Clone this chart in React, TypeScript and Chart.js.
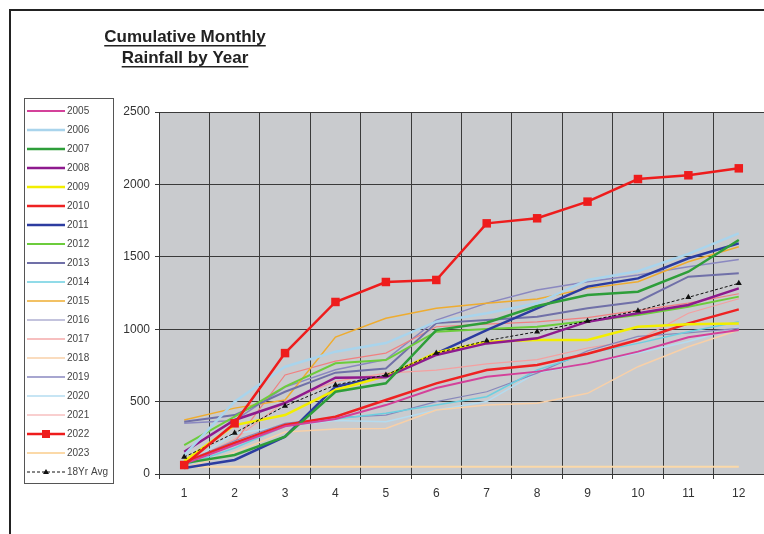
import React, { useEffect, useRef } from 'react';
import { Chart, registerables } from 'chart.js';

Chart.register(...registerables);

const months = ['1', '2', '3', '4', '5', '6', '7', '8', '9', '10', '11', '12'];
const yTicks = [0, 500, 1000, 1500, 2000, 2500];

const s2005 = [70, 200, 330, 380, 476, 594, 672, 707, 764, 845, 945, 995];
const s2006 = [130, 500, 741, 845, 904, 1052, 1110, 1179, 1340, 1400, 1520, 1662];
const s2007 = [75, 131, 258, 568, 626, 994, 1045, 1160, 1236, 1259, 1397, 1616];
const s2008 = [154, 373, 490, 665, 668, 822, 902, 937, 1052, 1110, 1167, 1282];
const s2009 = [90, 338, 407, 580, 677, 838, 914, 925, 925, 1017, 1035, 1040];
const s2010 = [80, 214, 338, 395, 511, 626, 718, 753, 830, 925, 1040, 1137];
const s2011 = [41, 97, 258, 603, 677, 833, 994, 1144, 1294, 1351, 1490, 1593];
const s2012 = [200, 396, 603, 765, 787, 983, 1001, 1017, 1057, 1098, 1155, 1225];
const s2013 = [361, 407, 568, 700, 729, 1042, 1063, 1086, 1144, 1190, 1363, 1386];
const s2014 = [60, 180, 330, 380, 420, 476, 534, 718, 833, 902, 983, 1052];
const s2015 = [373, 455, 511, 946, 1075, 1144, 1179, 1209, 1282, 1328, 1466, 1570];
const s2016 = [80, 230, 350, 390, 407, 500, 568, 697, 850, 950, 975, 1006];
const s2017 = [90, 220, 684, 780, 835, 1017, 1035, 1050, 1080, 1130, 1180, 1245];
const s2018 = [40, 150, 290, 310, 315, 442, 476, 488, 557, 741, 879, 994];
const s2019 = [350, 370, 600, 720, 790, 1063, 1180, 1270, 1328, 1374, 1432, 1482];
const s2020 = [60, 280, 330, 370, 361, 442, 500, 700, 765, 835, 915, 1015];
const s2021 = [70, 240, 500, 640, 697, 718, 760, 790, 870, 925, 1110, 1210];
const s2022 = [62, 350, 835, 1188, 1326, 1340, 1731, 1766, 1881, 2037, 2063, 2111];
const s2023 = [50, 50, 50, 50, 50, 50, 50, 50, 50, 50, 50, 50];
const avg18 = [117, 283, 470, 615, 684, 835, 921, 983, 1057, 1128, 1220, 1317];

const seriesNames = ['2005', '2006', '2007', '2008', '2009', '2010', '2011', '2012', '2013', '2014', '2015', '2016', '2017', '2018', '2019', '2020', '2021', '2022', '2023', '18Yr Avg'];
const seriesData = [s2005, s2006, s2007, s2008, s2009, s2010, s2011, s2012, s2013, s2014, s2015, s2016, s2017, s2018, s2019, s2020, s2021, s2022, s2023, avg18];
const seriesColors = ['#d4419a', '#a9d4ec', '#2e9e3a', '#8e1a8e', '#f2ee00', '#ee2222', '#2c3ca0', '#6ccc3c', '#7070a8', '#6ccfe0', '#eeac30', '#8888bb', '#f08080', '#f8d0a8', '#8a88c0', '#b4dcf0', '#f4a0a0', '#ee1c1c', '#fbd9a8', '#111111'];
const seriesWidths = [2, 2.5, 2.5, 2.5, 2.5, 2.5, 2.5, 2, 2, 1.5, 1.5, 1.2, 1.2, 1.5, 1.5, 1.5, 1.2, 2.5, 2, 1];

const FONT = '"Liberation Sans", Arial, sans-serif';

const framePlugin = {
  id: 'frame',
  beforeDraw(chart: any) {
    const { ctx, chartArea } = chart;
    ctx.save();
    ctx.fillStyle = '#ffffff';
    ctx.fillRect(0, 0, chart.width, chart.height);
    ctx.fillStyle = '#c9cbce';
    ctx.fillRect(chartArea.left, chartArea.top, chartArea.right - chartArea.left, chartArea.bottom - chartArea.top);
    ctx.strokeStyle = '#222';
    ctx.lineWidth = 2;
    ctx.beginPath();
    ctx.moveTo(10, chart.height);
    ctx.lineTo(10, 10);
    ctx.lineTo(chart.width, 10);
    ctx.stroke();
    ctx.restore();
  },
  afterDraw(chart: any) {
    const { ctx } = chart;
    ctx.save();
    // title
    ctx.fillStyle = '#222';
    ctx.font = 'bold 17px ' + FONT;
    ctx.textAlign = 'center';
    ctx.textBaseline = 'alphabetic';
    const lines = [['Cumulative Monthly', 42], ['Rainfall by Year', 63]] as [string, number][];
    lines.forEach(([t, y]) => {
      ctx.fillText(t, 185, y);
      const w = ctx.measureText(t).width;
      ctx.fillRect(185 - w / 2, y + 3, w, 1.5);
    });
    // legend
    ctx.strokeStyle = '#555';
    ctx.lineWidth = 1;
    ctx.strokeRect(24.5, 98.5, 89, 385);
    ctx.textAlign = 'left';
    ctx.textBaseline = 'middle';
    ctx.font = '10px ' + FONT;
    chart.data.datasets.forEach((ds: any, i: number) => {
      const y = 111 + i * 19;
      ctx.beginPath();
      ctx.setLineDash(ds.borderDash || []);
      ctx.strokeStyle = ds.borderColor;
      ctx.lineWidth = ds.borderWidth;
      ctx.moveTo(27, y);
      ctx.lineTo(65, y);
      ctx.stroke();
      ctx.setLineDash([]);
      if (ds.pointRadius > 0) {
        ctx.fillStyle = ds.pointBackgroundColor;
        if (ds.pointStyle === 'rect') {
          ctx.fillRect(46 - 4, y - 4, 8, 8);
        } else {
          ctx.beginPath();
          ctx.moveTo(46, y - 3);
          ctx.lineTo(49, y + 2);
          ctx.lineTo(43, y + 2);
          ctx.closePath();
          ctx.fill();
        }
      }
      ctx.fillStyle = '#444';
      ctx.fillText(ds.label, 67, y + 0.5);
    });
    ctx.restore();
  },
};

export default function App() {
  const ref = useRef<HTMLCanvasElement>(null);
  useEffect(() => {
    const canvas = ref.current!;
    const datasets = seriesNames.map((name, i) => {
      const isAvg = i === seriesNames.length - 1;
      const is2022 = name === '2022';
      return {
        label: name,
        data: seriesData[i],
        borderColor: seriesColors[i],
        backgroundColor: seriesColors[i],
        borderWidth: seriesWidths[i],
        borderDash: isAvg ? [3, 2] : [],
        pointRadius: is2022 ? 6 : isAvg ? 3.5 : 0,
        pointStyle: is2022 ? 'rect' : 'triangle',
        pointBackgroundColor: seriesColors[i],
        pointBorderColor: seriesColors[i],
        pointBorderWidth: 0,
        tension: 0,
        fill: false,
        order: is2022 ? -2 : isAvg ? -1 : i,
      };
    });
    const chart = new Chart(canvas, {
      type: 'line',
      data: { labels: months, datasets: datasets as any },
      options: {
        responsive: false,
        animation: false,
        devicePixelRatio: 1,
        layout: { autoPadding: false, padding: { left: 0, right: 0, top: 112, bottom: 0 } },
        plugins: {
          legend: { display: false },
          title: { display: false },
          tooltip: { enabled: false },
        },
        scales: {
          x: {
            offset: true,
            grid: { offset: true, color: '#3a3a3a', lineWidth: 1, tickLength: 5, tickColor: '#3a3a3a' },
            border: { color: '#333', width: 1 },
            ticks: { color: '#333', font: { family: FONT, size: 12 }, padding: 7, maxRotation: 0 },
            afterFit: (s: any) => { s.height = 60; },
          },
          y: {
            min: 0,
            max: 2500,
            afterBuildTicks: (s: any) => { s.ticks = yTicks.map((v) => ({ value: v })); },
            grid: { color: '#3a3a3a', lineWidth: 1, tickLength: 4, tickColor: '#3a3a3a' },
            border: { color: '#333', width: 1 },
            ticks: { color: '#333', font: { family: FONT, size: 12 }, padding: 5, callback: (v: any) => String(v) },
            afterFit: (s: any) => { s.width = 159; },
          },
        },
      },
      plugins: [framePlugin],
    });
    return () => chart.destroy();
  }, []);
  return (
    <div style={{ position: 'absolute', left: 0, top: 0, width: 764, height: 534, background: '#fff' }}>
      <canvas ref={ref} width={764} height={534} style={{ display: 'block', width: 764, height: 534 }} />
    </div>
  );
}
